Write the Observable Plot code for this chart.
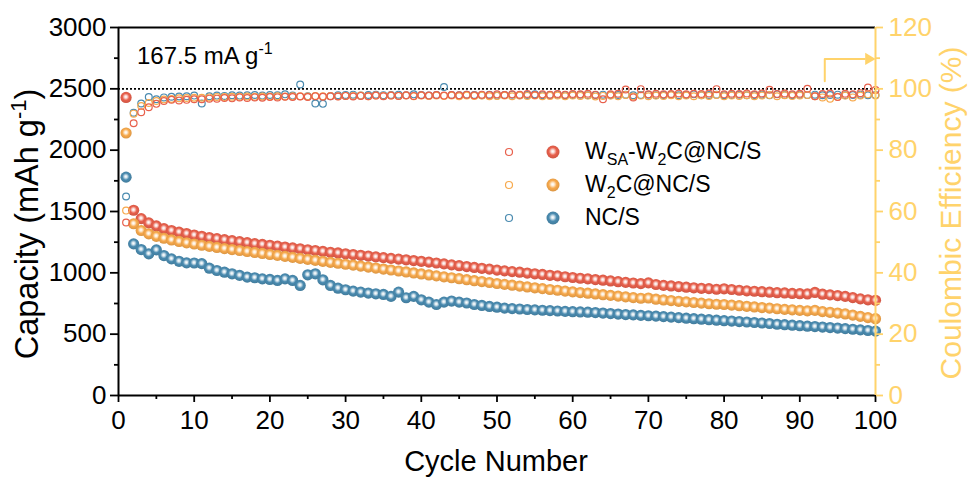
<!DOCTYPE html>
<html><head><meta charset="utf-8">
<script src="https://cdn.jsdelivr.net/npm/d3@7"></script>
<script src="https://cdn.jsdelivr.net/npm/@observablehq/plot@0.6"></script>
<style>
html,body{margin:0;padding:0;background:#fff;}
#chart{width:968px;height:477px;}
</style></head><body><div id="chart"></div>
<script>
// ---------- data ----------
const cycles = d3.range(1, 101);

const capWSA = [2430,1510,1442,1407,1382,1360,1345,1332,1320,1308,
 1298,1288,1279,1270,1262,1254,1246,1238,1232,1225,
 1218,1210,1203,1196,1188,1182,1175,1168,1162,1155,
 1149,1143,1137,1130,1124,1118,1112,1106,1100,1094,
 1087,1080,1073,1065,1058,1051,1044,1037,1030,1022,
 1016,1010,1005,998,992,987,980,975,968,962,
 956,951,945,940,934,928,922,917,912,918,
 905,898,893,888,883,878,874,871,866,870,
 864,858,853,850,846,842,838,836,832,830,
 828,840,826,820,815,808,798,788,780,776];

const capW2C = [2140,1400,1345,1318,1298,1282,1268,1256,1245,1235,
 1225,1216,1207,1198,1190,1182,1174,1166,1158,1150,
 1142,1134,1126,1118,1110,1102,1094,1086,1078,1070,
 1063,1055,1047,1039,1031,1023,1015,1007,999,991,
 983,975,967,960,952,944,936,929,921,913,
 906,899,892,885,878,871,864,858,851,845,
 839,834,828,822,816,810,804,798,793,795,
 785,779,774,768,763,758,753,748,744,742,
 737,732,727,722,717,712,707,702,698,694,
 690,694,684,678,672,665,655,645,635,626];

const capNCS = [1780,1236,1190,1155,1187,1141,1114,1094,1081,1080,
 1075,1038,1019,1005,992,979,965,960,951,946,
 938,951,938,897,984,992,943,897,875,862,
 851,843,835,829,824,808,843,797,808,780,
 761,742,761,770,761,754,742,734,726,720,
 712,708,705,701,698,695,692,689,686,683,
 681,679,676,672,668,664,660,657,653,650,
 647,643,639,635,630,626,622,618,614,610,
 607,603,599,595,591,587,581,577,573,569,
 565,562,558,554,550,545,540,535,530,525];

const ceWSA = [56.4,88.8,92.4,94.0,95.1,96.0,96.4,96.2,96.4,96.6,
 96.6,96.8,96.8,97.0,96.9,97.2,97.0,97.2,97.1,97.3,
 97.2,97.4,97.3,97.5,97.3,97.6,97.4,97.6,97.5,97.7,
 97.5,97.7,97.6,97.8,97.6,97.8,97.7,97.9,97.7,97.9,
 97.8,98.0,97.8,98.0,97.9,98.1,97.9,98.1,98.0,98.2,
 98.0,98.2,98.1,98.3,98.0,98.2,98.1,98.3,98.1,98.3,
 98.2,98.4,98.1,96.6,98.2,98.4,99.8,97.2,99.9,98.2,
 98.4,98.2,98.3,98.5,98.2,98.4,98.3,98.5,99.9,98.2,
 98.4,98.3,98.5,98.2,98.5,99.7,98.3,98.5,98.2,98.4,
 100.0,97.6,98.3,98.5,97.3,98.4,98.2,98.6,100.4,99.6];

const ceW2C = [60.3,91.9,94.4,95.4,96.0,96.5,96.7,96.9,97.0,97.1,
 97.1,97.2,97.3,97.3,97.4,97.4,97.5,97.4,97.5,97.5,
 97.6,97.5,97.6,97.6,97.5,97.7,97.6,97.7,97.6,97.7,
 97.7,97.8,97.6,97.8,97.7,97.8,97.7,97.8,97.6,97.8,
 97.7,97.8,97.7,97.8,97.6,97.8,97.7,97.8,97.6,97.7,
 97.8,97.6,97.8,97.7,97.8,97.6,97.7,97.8,97.6,97.8,
 97.7,97.8,97.5,97.7,97.8,97.6,98.0,97.5,97.8,97.6,
 97.8,97.7,97.9,97.6,97.8,97.6,97.9,97.7,98.0,97.6,
 97.8,97.7,97.9,97.6,97.8,98.0,97.6,97.9,97.7,97.8,
 98.0,97.6,97.2,96.8,97.4,97.8,97.2,97.8,98.2,97.8];

const ceNCS = [64.9,92.2,95.2,97.3,96.6,97.2,97.4,97.5,97.6,97.8,
 95.2,97.6,97.8,97.7,97.9,97.8,97.9,98.0,97.8,98.0,
 97.9,98.2,97.8,101.4,97.6,95.2,95.1,97.6,97.9,98.0,
 98.1,97.8,98.0,98.1,97.9,98.0,98.1,97.9,98.2,98.0,
 97.8,98.0,100.6,98.0,97.9,98.1,98.0,97.9,98.1,97.8,
 98.0,98.1,97.9,98.0,98.2,97.9,98.0,98.1,97.9,98.0,
 98.1,97.9,98.0,98.1,97.9,98.0,98.1,97.9,98.0,98.1,
 97.9,98.0,98.1,97.9,98.0,98.2,97.9,98.0,98.1,97.9,
 98.0,98.1,97.9,98.0,98.1,97.9,98.2,98.0,97.9,98.1,
 98.0,98.1,97.9,98.0,98.1,97.9,98.0,98.1,97.9,98.0];

const capTicks = [0,500,1000,1500,2000,2500,3000];
const capMinor = [250,750,1250,1750,2250,2750];
const ceTicks = [0,20,40,60,80,100,120];
const ceMinor = [10,30,50,70,90,110];
const cycleTicks = [0,10,20,30,40,50,60,70,80,90,100];
const cycleMinor = [5,15,25,35,45,55,65,75,85,95];
const ceRef = [100];               // 100 % reference line
const arrowPath = [{c:93.3, v:2561},{c:93.3, v:2744},{c:98.6, v:2744}];
const arrowHead = [{c:99.1, v:2744}];

const RED = "#e8604c", ORANGE = "#f7a94c", BLUE = "#4a8bb0", YELLOW = "#ffd36b";
const CE_TO_CAP = 25; // 120 % ↔ 3000 mAh g-1

// ---------- build rows ----------
const rows = (cap, ce) => cycles.map((c, i) => ({c, cap: cap[i], ce: ce[i] * CE_TO_CAP}));
const dWSA = rows(capWSA, ceWSA), dW2C = rows(capW2C, ceW2C), dNCS = rows(capNCS, ceNCS);

// fill markers (swapped for gradients afterwards)
const FR = "#e8604d", FO = "#f7a94d", FB = "#4a8bb1";

const chart = Plot.plot({
  width: 968, height: 477,
  marginLeft: 118, marginRight: 93, marginTop: 27, marginBottom: 82,
  x: {domain: [0, 100]},
  y: {domain: [0, 3000]},
  style: {fontFamily: "'Liberation Sans', Arial, sans-serif", fontSize: "26px", color: "black", background: "white", overflow: "visible"},
  marks: [
    Plot.ruleY(ceRef, {y: d => d * CE_TO_CAP, stroke: "black", strokeWidth: 1.6, strokeDasharray: "2,2"}),
    Plot.dot(dWSA, {x: "c", y: "cap", r: 5.6, fill: FR}),
    Plot.dot(dW2C, {x: "c", y: "cap", r: 5.6, fill: FO}),
    Plot.dot(dNCS, {x: "c", y: "cap", r: 5.6, fill: FB}),
    Plot.dot(dNCS, {x: "c", y: "ce", r: 3.4, stroke: BLUE, strokeWidth: 1.2, fill: "none"}),
    Plot.dot(dW2C, {x: "c", y: "ce", r: 3.4, stroke: ORANGE, strokeWidth: 1.2, fill: "none"}),
    Plot.dot(dWSA, {x: "c", y: "ce", r: 3.4, stroke: RED, strokeWidth: 1.2, fill: "none"}),
    Plot.line(arrowPath, {x: "c", y: "v", stroke: YELLOW, strokeWidth: 2}),
    Plot.dot(arrowHead, {x: "c", y: "v", symbol: "triangle", rotate: 90, r: 4.5, fill: YELLOW}),
    // axes
    Plot.axisY({ticks: capTicks, tickFormat: d => String(d), tickSize: 8, tickPadding: 4, strokeWidth: 1.8, label: null}),
    Plot.axisY({ticks: capMinor, tickSize: 4, strokeWidth: 1.8, tickFormat: () => "", label: null}),
    Plot.axisX({ticks: cycleTicks, tickFormat: d => String(d), tickSize: 7, tickPadding: 8, strokeWidth: 1.8, label: null}),
    Plot.axisX({ticks: cycleMinor, tickSize: 4, strokeWidth: 1.8, tickFormat: () => "", label: null}),
    Plot.axisY({anchor: "right", ticks: ceTicks.map(v => v * CE_TO_CAP), tickFormat: d => String(d / CE_TO_CAP),
      tickSize: 7, tickPadding: 6, strokeWidth: 1.8, color: YELLOW, label: null}),
    Plot.axisY({anchor: "right", ticks: ceMinor.map(v => v * CE_TO_CAP), tickFormat: () => "",
      tickSize: 4, strokeWidth: 1.8, color: YELLOW, label: null}),
    Plot.ruleY([0, 3000], {stroke: "black", strokeWidth: 2}),
    Plot.ruleX([0], {stroke: "black", strokeWidth: 2}),
    Plot.ruleX([100], {stroke: YELLOW, strokeWidth: 2})
  ]
});

document.getElementById("chart").appendChild(chart);
const svg = d3.select(chart);

// sphere gradients
const defs = svg.insert("defs", ":first-child");
function grad(id, col) {
  const c = d3.color(col);
  const g = defs.append("radialGradient").attr("id", id).attr("cx", "48%").attr("cy", "45%").attr("r", "55%");
  g.append("stop").attr("offset", "0%").attr("stop-color", "#ffffff");
  g.append("stop").attr("offset", "20%").attr("stop-color", d3.interpolateRgb("#ffffff", col)(0.2));
  g.append("stop").attr("offset", "55%").attr("stop-color", col);
  g.append("stop").attr("offset", "100%").attr("stop-color", c.darker(0.35).formatHex());
}
grad("gR", RED); grad("gO", ORANGE); grad("gB", BLUE);
svg.selectAll(`g[fill="${FR}"]`).attr("fill", "url(#gR)");
svg.selectAll(`g[fill="${FO}"]`).attr("fill", "url(#gO)");
svg.selectAll(`g[fill="${FB}"]`).attr("fill", "url(#gB)");

const font = "'Liberation Sans', Arial, sans-serif";
const ann = svg.append("g").attr("font-family", font).attr("text-anchor", "start");

// current density label
const t1 = ann.append("text").attr("x", 137).attr("y", 64).attr("font-size", 24).attr("fill", "black");
t1.append("tspan").text("167.5 mA g");
t1.append("tspan").attr("font-size", 16).attr("dy", -10).text("-1");

// legend
const legendNames = [[["W", 0], ["SA", 1], ["-W", 0], ["2", 1], ["C@NC/S", 0]], [["W", 0], ["2", 1], ["C@NC/S", 0]], [["NC/S", 0]]];
const legendColors = [RED, ORANGE, BLUE];
const legendGrad = ["gR", "gO", "gB"];
const legendY = [152, 185, 218];
legendNames.forEach((parts, i) => {
  const y = legendY[i];
  ann.append("circle").attr("cx", 509).attr("cy", y).attr("r", 3.5).attr("fill", "none").attr("stroke", legendColors[i]).attr("stroke-width", 1.2);
  ann.append("circle").attr("cx", 553).attr("cy", y).attr("r", 6.5).attr("fill", `url(#${legendGrad[i]})`);
  const t = ann.append("text").attr("x", 585).attr("y", y + 7).attr("font-size", 23).attr("fill", "black");
  let sub = false;
  parts.forEach(([s, isSub]) => {
    const sp = t.append("tspan").text(s);
    if (isSub && !sub) { sp.attr("font-size", 16).attr("dy", 6); sub = true; }
    else if (!isSub && sub) { sp.attr("dy", -6); sub = false; }
    else if (isSub) sp.attr("font-size", 16);
  });
});

// axis titles
ann.append("text").attr("x", 496).attr("y", 471).attr("text-anchor", "middle").attr("font-size", 29).attr("fill", "black").text("Cycle Number");

const yl = ann.append("text").attr("transform", "translate(38,224) rotate(-90)").attr("text-anchor", "middle").attr("font-size", 32.5).attr("fill", "black");
yl.append("tspan").text("Capacity (mAh g");
yl.append("tspan").attr("font-size", 22).attr("dy", -12).text("-1");
yl.append("tspan").attr("dy", 12).text(")");

ann.append("text").attr("transform", "translate(961,213) rotate(-90)").attr("text-anchor", "middle").attr("font-size", 30).attr("fill", YELLOW).text("Coulombic Efficiency (%)");
</script>
</body></html>
